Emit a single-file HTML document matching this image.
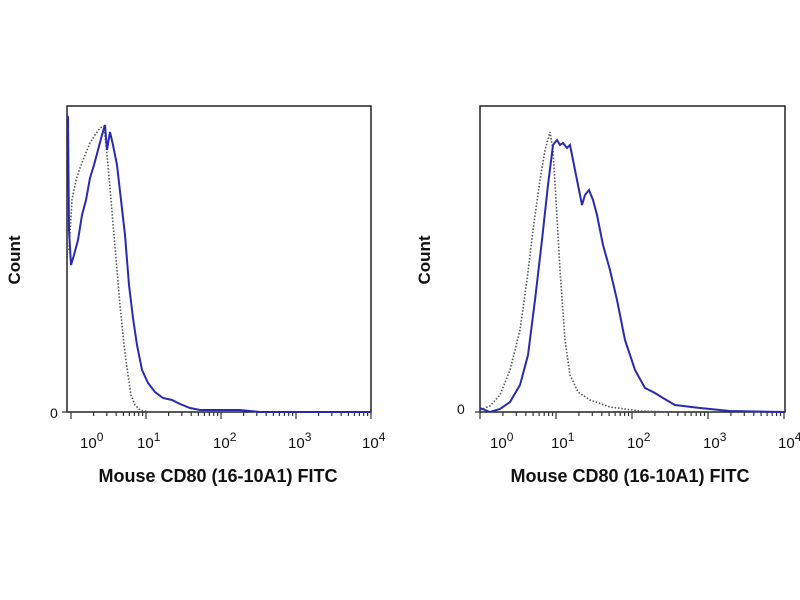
<!DOCTYPE html>
<html><head><style>
body{margin:0;background:#fff;width:800px;height:600px;overflow:hidden}
svg{display:block}
text{font-family:"Liberation Sans",Arial,sans-serif;fill:#111}
</style></head><body>
<svg width="800" height="600" viewBox="0 0 800 600">
<g>
<rect x="67" y="106" width="304" height="306" fill="none" stroke="#222" stroke-width="1.5"/>
<path stroke="#333" stroke-width="1.2" fill="none" d="M71 412v7 M93.6 412v4 M106.8 412v4 M116.2 412v4 M123.4 412v4 M129.4 412v4 M134.4 412v4 M138.7 412v4 M142.6 412v4 M146 412v7 M168.6 412v4 M181.8 412v4 M191.2 412v4 M198.4 412v4 M204.4 412v4 M209.4 412v4 M213.7 412v4 M217.6 412v4 M221 412v7 M243.6 412v4 M256.8 412v4 M266.2 412v4 M273.4 412v4 M279.4 412v4 M284.4 412v4 M288.7 412v4 M292.6 412v4 M296 412v7 M318.6 412v4 M331.8 412v4 M341.2 412v4 M348.4 412v4 M354.4 412v4 M359.4 412v4 M363.7 412v4 M367.6 412v4 M371 412v7 M62 412h5"/>
<polyline fill="none" stroke="#555" stroke-width="1.6" stroke-dasharray="1.5,1.8" points="69,250 72,200 76,180 80,168 85,155 90,143 95,135 100,128 104,126 106,145 108,165 111,200 114,235 117,270 120,305 124,345 128,375 131,395 135,405 140,410 150,412 160,412"/>
<polyline fill="none" stroke="#2a2ab0" stroke-width="2" points="67,116 68,117 69,230 71,265 74,255 78,240 82,215 86,200 90,178 94,165 98,150 102,135 105,125 107,150 110,132 113,145 117,165 121,200 125,235 129,285 133,318 137,345 142,370 148,383 155,392 163,398 172,400 180,404 190,408 200,410 240,410 260,412 371,412"/>
<text x="50" y="418" font-size="14">0</text>
<text x="20" y="260" font-size="17" font-weight="bold" transform="rotate(-90 20 260)" text-anchor="middle">Count</text>
<text x="80" y="448" font-size="15" fill="#333">10<tspan dy="-7" font-size="12">0</tspan></text>
<text x="137" y="448" font-size="15" fill="#333">10<tspan dy="-7" font-size="12">1</tspan></text>
<text x="213" y="448" font-size="15" fill="#333">10<tspan dy="-7" font-size="12">2</tspan></text>
<text x="288" y="448" font-size="15" fill="#333">10<tspan dy="-7" font-size="12">3</tspan></text>
<text x="362" y="448" font-size="15" fill="#333">10<tspan dy="-7" font-size="12">4</tspan></text>
<text x="218" y="482" font-size="18" font-weight="bold" text-anchor="middle">Mouse CD80 (16-10A1) FITC</text>
</g>
<g>
<rect x="480" y="106" width="305" height="306" fill="none" stroke="#222" stroke-width="1.5"/>
<path stroke="#333" stroke-width="1.2" fill="none" d="M480 412v7 M502.9 412v4 M516.3 412v4 M525.8 412v4 M533.1 412v4 M539.1 412v4 M544.2 412v4 M548.6 412v4 M552.5 412v4 M556 412v7 M578.9 412v4 M592.3 412v4 M601.8 412v4 M609.1 412v4 M615.1 412v4 M620.2 412v4 M624.6 412v4 M628.5 412v4 M632 412v7 M654.9 412v4 M668.3 412v4 M677.8 412v4 M685.1 412v4 M691.1 412v4 M696.2 412v4 M700.6 412v4 M704.5 412v4 M708 412v7 M730.9 412v4 M744.3 412v4 M753.8 412v4 M761.1 412v4 M767.1 412v4 M772.2 412v4 M776.6 412v4 M780.5 412v4 M784 412v7 M475 412h5"/>
<polyline fill="none" stroke="#555" stroke-width="1.6" stroke-dasharray="1.5,1.8" points="480,410 490,406 500,395 510,370 520,330 527,280 533,230 540,180 545,150 550,132 553,150 556,200 560,270 565,340 570,375 578,392 590,400 610,407 640,411 670,412"/>
<polyline fill="none" stroke="#2a2ab0" stroke-width="2" points="480,408 490,412 500,409 510,402 520,385 528,355 535,300 542,240 548,185 553,145 557,140 560,145 563,143 567,148 570,145 573,160 577,180 582,205 585,195 589,190 593,200 597,215 603,245 610,270 617,300 625,340 635,370 645,388 655,393 663,398 675,405 700,408 730,411 785,412"/>
<text x="457" y="414" font-size="14">0</text>
<text x="430" y="260" font-size="17" font-weight="bold" transform="rotate(-90 430 260)" text-anchor="middle">Count</text>
<text x="490" y="448" font-size="15" fill="#333">10<tspan dy="-7" font-size="12">0</tspan></text>
<text x="551" y="448" font-size="15" fill="#333">10<tspan dy="-7" font-size="12">1</tspan></text>
<text x="627" y="448" font-size="15" fill="#333">10<tspan dy="-7" font-size="12">2</tspan></text>
<text x="703" y="448" font-size="15" fill="#333">10<tspan dy="-7" font-size="12">3</tspan></text>
<text x="778" y="448" font-size="15" fill="#333">10<tspan dy="-7" font-size="12">4</tspan></text>
<text x="630" y="482" font-size="18" font-weight="bold" text-anchor="middle">Mouse CD80 (16-10A1) FITC</text>
</g>
</svg>
</body></html>
